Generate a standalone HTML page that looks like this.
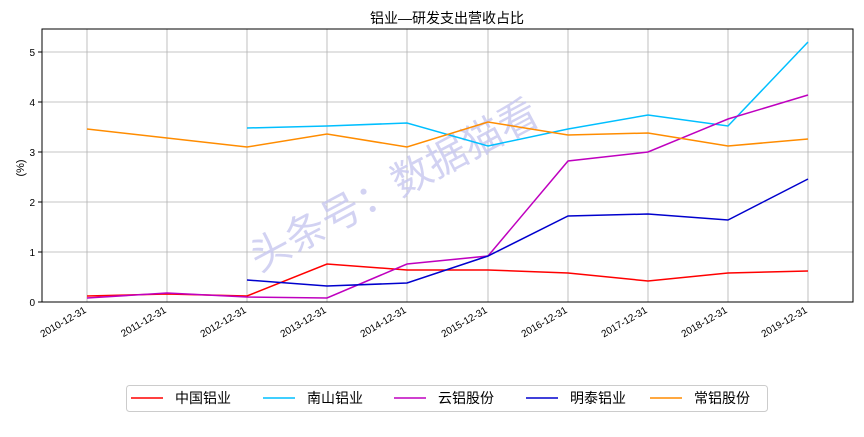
<!DOCTYPE html>
<html><head><meta charset="utf-8"><style>
body{margin:0;background:#fff;}
svg text{font-family:"Liberation Sans","Noto Sans CJK SC",sans-serif;}
</style></head><body>
<svg width="864" height="432" xmlns="http://www.w3.org/2000/svg">
<rect width="864" height="432" fill="#fff"/>
<g stroke="#b0b0b0" stroke-width="0.8">
<line x1="87" y1="29" x2="87" y2="302"/><line x1="167" y1="29" x2="167" y2="302"/><line x1="247" y1="29" x2="247" y2="302"/><line x1="327" y1="29" x2="327" y2="302"/><line x1="407" y1="29" x2="407" y2="302"/><line x1="488" y1="29" x2="488" y2="302"/><line x1="568" y1="29" x2="568" y2="302"/><line x1="648" y1="29" x2="648" y2="302"/><line x1="728" y1="29" x2="728" y2="302"/><line x1="808" y1="29" x2="808" y2="302"/>
<line x1="42" y1="252" x2="853" y2="252"/><line x1="42" y1="202" x2="853" y2="202"/><line x1="42" y1="152" x2="853" y2="152"/><line x1="42" y1="102" x2="853" y2="102"/><line x1="42" y1="52" x2="853" y2="52"/>
</g>
<g font-size="40" fill="#c8c8f0" opacity="0.8" transform="rotate(-28 420 170)">
<text x="230" y="185">头条号：数据猫看</text></g>
<rect x="42" y="29" width="811" height="273" fill="none" stroke="#000" stroke-width="1"/>
<g stroke="#000"><line x1="38" y1="302" x2="42" y2="302"/><line x1="38" y1="252" x2="42" y2="252"/><line x1="38" y1="202" x2="42" y2="202"/><line x1="38" y1="152" x2="42" y2="152"/><line x1="38" y1="102" x2="42" y2="102"/><line x1="38" y1="52" x2="42" y2="52"/></g>
<g font-size="10" text-anchor="end"><text x="35" y="306">0</text><text x="35" y="256">1</text><text x="35" y="206">2</text><text x="35" y="156">3</text><text x="35" y="106">4</text><text x="35" y="56">5</text></g>
<g font-size="10" text-anchor="end">
<text transform="translate(87,312) rotate(-30)">2010-12-31</text>
<text transform="translate(167,312) rotate(-30)">2011-12-31</text>
<text transform="translate(247,312) rotate(-30)">2012-12-31</text>
<text transform="translate(327,312) rotate(-30)">2013-12-31</text>
<text transform="translate(407,312) rotate(-30)">2014-12-31</text>
<text transform="translate(488,312) rotate(-30)">2015-12-31</text>
<text transform="translate(568,312) rotate(-30)">2016-12-31</text>
<text transform="translate(648,312) rotate(-30)">2017-12-31</text>
<text transform="translate(728,312) rotate(-30)">2018-12-31</text>
<text transform="translate(808,312) rotate(-30)">2019-12-31</text>
</g>
<text x="447" y="23" font-size="14" text-anchor="middle">铝业—研发支出营收占比</text>
<text transform="translate(24,168) rotate(-90)" font-size="11" text-anchor="middle">(%)</text>
<g fill="none" stroke-width="1.5">
<polyline stroke="#ff0000" points="87,296 167,294 247,296 327,264 407,270 488,270 568,273 648,281 728,273 808,271"/>
<polyline stroke="#00bfff" points="247,128 327,126 407,123 488,146 568,129 648,115 728,126 808,42"/>
<polyline stroke="#bf00bf" points="87,298 167,293 247,297 327,298 407,264 488,256 568,161 648,152 728,119 808,95"/>
<polyline stroke="#0000cd" points="247,280 327,286 407,283 488,256 568,216 648,214 728,220 808,179"/>
<polyline stroke="#ff8c00" points="87,129 167,138 247,147 327,134 407,147 488,122 568,135 648,133 728,146 808,139"/>
</g>
<rect x="126.5" y="385.5" width="641" height="26" rx="3" fill="#fff" stroke="#ccc"/>
<g stroke-width="1.5">
<line x1="131" y1="398" x2="163" y2="398" stroke="#ff0000"/>
<line x1="263" y1="398" x2="295" y2="398" stroke="#00bfff"/>
<line x1="394" y1="398" x2="426" y2="398" stroke="#bf00bf"/>
<line x1="526" y1="398" x2="558" y2="398" stroke="#0000cd"/>
<line x1="650" y1="398" x2="682" y2="398" stroke="#ff8c00"/>
</g>
<g font-size="14"><text x="175" y="403">中国铝业</text><text x="307" y="403">南山铝业</text><text x="438" y="403">云铝股份</text><text x="570" y="403">明泰铝业</text><text x="694" y="403">常铝股份</text></g>
</svg>
</body></html>
